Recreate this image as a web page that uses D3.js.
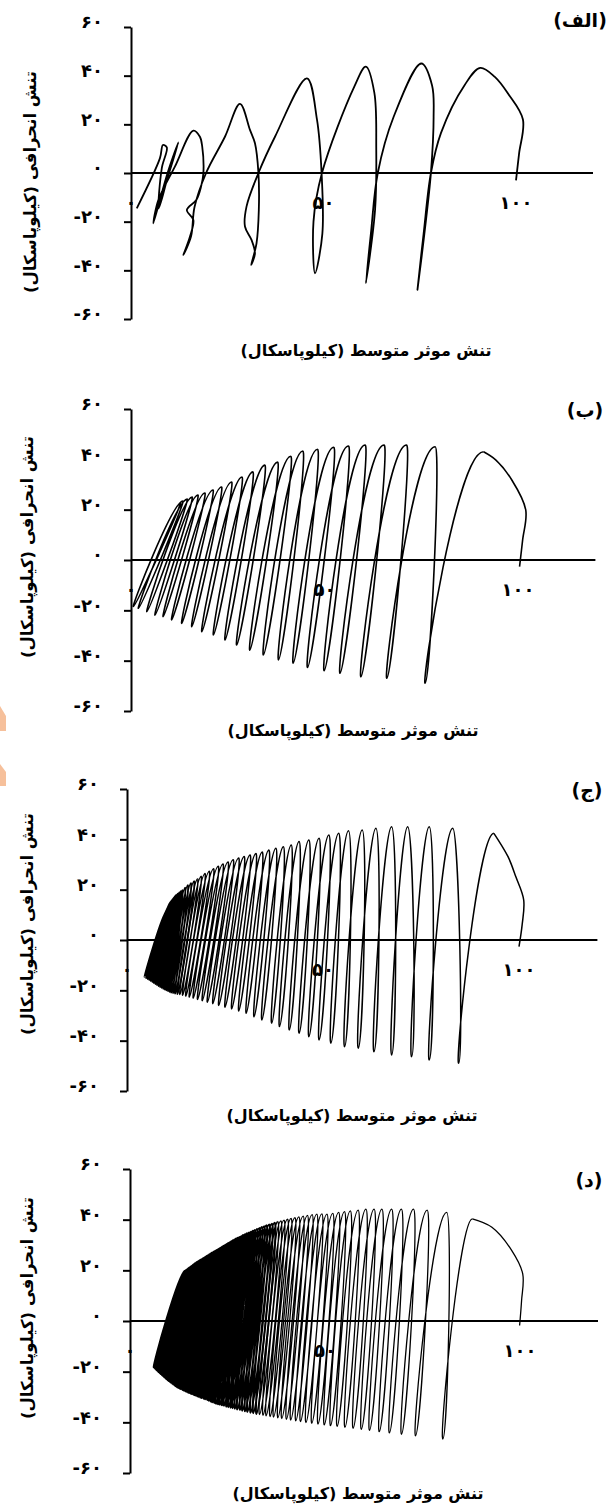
<!DOCTYPE html>
<html>
<head>
<meta charset="utf-8">
<script src="https://cdn.jsdelivr.net/npm/d3@7"></script>
<style>
  body { margin: 0; background: #fff; }
  text { font-family: "DejaVu Sans", sans-serif; font-weight: bold; fill: #000; }
</style>
</head>
<body>
<svg id="chart"></svg>
<script>
// ---- tick values and labels (shared by all four panels)
const yTicks = [60, 40, 20, 0, -20, -40, -60];
const yTickLabels = ["۶۰", "۴۰", "۲۰", "۰", "-۲۰", "-۴۰", "-۶۰"];
const xTicks = [0, 50, 100];
const xTickLabels = ["۰", "۵۰", "۱۰۰"];
const xTitle = "تنش موثر متوسط (کیلوپاسکال)";
const yTitle = "تنش انحرافی (کیلوپاسکال)";
const panelLabels = ["(الف)", "(ب)", "(ج)", "(د)"];

// ---- panel (a): full stress path, point by point
const aP = [100, 100.8, 101.8, 98, 94.5, 90.7, 86.6, 80.5, 77.9, 76, 74.4,
  76.2, 77.9, 78.6, 78.2, 75.4, 68.2, 64.1, 62.3, 61,
  63.4, 63.7, 63.2, 61, 58, 49.6, 47.4, 47.8,
  49.7, 49.5, 48.3, 45.7, 37.4, 33.1, 30, 29.6, 31.3, 32.2, 31.2,
  32.6, 33.2, 33.1, 32.2, 30.9, 28.3, 24.4, 19.5, 16.5, 15.6, 13.6,
  15.3, 16.2, 14.5, 17, 18.2, 18.8, 18.5, 17.9, 16.2, 11.4, 7.1, 5.8,
  9.5, 12.3, 9.5, 7.2, 8, 9.3, 8.3, 7.5, 1.5];
const aQ = [-3, 8, 22, 32.5, 39.5, 43.2, 36, 16.4, 0, -25, -48,
  -25, 0, 23, 36, 45, 23, 0, -25, -45.3,
  -15, 10, 33, 43.7, 35.5, 0, -20, -41.2,
  -25, 0, 22, 38.9, 14.9, 0, -13.8, -22, -27.5, -33, -37.8,
  -28.9, -15.2, 0, 12.2, 17.7, 28.4, 14.9, 0, -14, -26, -33.7,
  -26.2, -19.3, -15.2, -11, -5.6, 0, 10.8, 14.9, 17.4, 2.6, -11.1, -20.7,
  0, 12.6, -2, -14.5, 2, 10.5, 11.5, 6, -14.5];

// ---- panel (b)
const bLeadP = [100.4, 101.2, 102, 98.4, 94.3];
const bLeadQ = [-2.6, 8, 19.9, 31.8, 39.7];
const bPeakP = [91.1, 78.6, 71.2, 65.4, 60.5, 56.2, 52.4, 48.2, 44.4, 41.3, 37.9, 34.6,
  31.5, 28.7, 26.0, 23.4, 21.2, 19.1, 17.3, 15.8, 14.5, 13.4, 12.7];
const bPeakQ = [43.0, 45.0, 45.7, 45.7, 45.7, 45.3, 44.8, 44.0, 43.3, 41.2, 38.9, 37.7,
  35.0, 33.0, 31.0, 29.0, 27.8, 26.6, 25.8, 25.0, 24.2, 23.4, 22.6];
const bTroughP = [76.0, 66.1, 59.4, 54.0, 49.9, 45.6, 41.9, 38.1, 34.2, 30.7, 27.3, 24.3,
  21.3, 18.3, 15.7, 13.1, 10.5, 8.3, 6.2, 4.1, 1.9, 0.6];
const bTroughQ = [-49.0, -47.0, -46.4, -45.0, -44.0, -42.7, -41.0, -39.7, -37.7, -35.8, -33.8, -31.8,
  -29.8, -28.5, -26.5, -25.2, -23.8, -22.5, -21.9, -20.5, -19.2, -18.5];

// ---- panel (c)
const cLeadP = [100, 100.8, 101.2, 99.2, 97.2];
const cLeadQ = [-2.6, 6, 15.9, 25.1, 33.1];
const cPeakP = [93.6, 83.1, 77.1, 71.6, 67.5, 63.5, 60.0, 56.5, 54.0, 51.5, 49.0, 46.4, 43.9, 41.9, 39.9,
  38.0, 36.2, 34.5, 32.9, 31.4, 29.9, 28.5, 27.1, 25.8, 24.5, 23.3, 22.1, 21.0, 19.9, 18.9,
  18.0, 17.1, 16.3, 15.5, 14.8, 14.1, 13.7, 13.3, 12.9, 12.5, 12.2, 11.9, 11.6, 11.3, 11.0,
  10.8, 10.6, 10.4, 10.2, 10.0, 9.8];
const cPeakQ = [42.4, 44.4, 45.0, 45.0, 45.0, 44.4, 43.7, 43.4, 42.4, 41.7, 40.4, 39.7, 39.1, 37.7, 37.1,
  36.5, 35.8, 35.0, 34.4, 33.8, 33.2, 32.6, 31.9, 31.0, 30.2, 29.3, 28.3, 27.3, 26.4, 25.3,
  24.3, 23.4, 22.6, 21.8, 20.8, 19.8, 19.4, 18.9, 18.4, 17.9, 17.4, 16.8, 16.2, 15.6, 15.0,
  14.4, 13.7, 13.0, 12.3, 11.6, 10.8];
const cTroughP = [84.6, 77.1, 72.6, 67.5, 63.0, 59.0, 55.5, 52.0, 49.0, 46.4, 43.9, 41.4, 38.9, 36.9, 34.4,
  32.4, 30.4, 28.5, 26.7, 25.0, 23.4, 21.9, 20.5, 19.2, 18.0, 16.9, 15.9, 15.0, 14.2, 13.5,
  12.9, 12.3, 11.8, 11.3, 10.9, 10.5, 10.1, 9.7, 9.3, 8.9, 8.5, 8.1, 7.7, 7.3, 6.9,
  6.5, 6.1, 5.7, 5.3, 4.9, 4.5];
const cTroughQ = [-49.0, -47.7, -46.4, -45.7, -44.4, -43.0, -42.4, -41.0, -39.7, -38.4, -37.1, -35.8, -34.4, -33.1, -31.8,
  -30.5, -29.1, -28.2, -27.4, -26.7, -26.0, -25.3, -24.7, -24.1, -23.6, -23.1, -22.7, -22.3, -22.0, -21.7,
  -21.5, -21.3, -21.1, -20.9, -20.6, -20.3, -20.0, -19.7, -19.4, -19.0, -18.7, -18.3, -17.9, -17.5, -17.1,
  -16.7, -16.3, -15.9, -15.5, -15.1, -14.7];

// ---- panel (d)
const dLeadP = [99.9, 100.4, 100.7, 97.9, 92.8];
const dLeadQ = [-1.8, 8, 18.6, 27.8, 37];
const dPeakP = [87.8, 81.2, 76.2, 72.7, 69.6, 67.1, 64.6, 62.6, 60.5, 58.5, 56.5, 55.0, 53.5, 52.0, 50.5,
  49.2, 47.9, 46.7, 45.5, 44.4, 43.3, 42.3, 41.3, 40.4, 39.5,
  38.7, 37.9, 37.1, 36.4, 35.7, 35.0, 34.4, 33.8, 33.2, 32.6,
  32.0, 31.5, 31.0, 30.5, 30.0, 29.5, 29.0, 28.55, 28.1, 27.65,
  27.2, 26.8, 26.4, 26.0, 25.6, 25.2, 24.8, 24.4, 24.05, 23.7,
  23.35, 23.0, 22.65, 22.3, 21.95, 21.6, 21.3, 21.0, 20.7, 20.4,
  20.1, 19.8, 19.5, 19.2, 18.9, 18.65, 18.4, 18.15, 17.9, 17.65,
  17.4, 17.15, 16.9, 16.7, 16.5, 16.3, 16.1, 15.9, 15.7, 15.5,
  15.3, 15.1, 14.9, 14.7, 14.5, 14.3, 14.1];
const dPeakQ = [40.3, 42.9, 43.8, 44.2, 44.2, 44.2, 44.2, 44.2, 44.2, 43.8, 43.5, 43.2, 42.9, 42.5, 42.2,
  42.3, 42.2, 42.0, 41.7, 41.4, 41.1, 40.8, 40.5, 40.2, 39.8,
  39.5, 39.2, 38.8, 38.4, 38.1, 37.8, 37.4, 37.1, 36.7, 36.3,
  35.9, 35.6, 35.2, 34.9, 34.6, 34.2, 33.9, 33.5, 33.2, 32.9,
  32.6, 32.2, 31.9, 31.5, 31.1, 30.8, 30.4, 30.0, 29.7, 29.4,
  29.0, 28.7, 28.3, 28.0, 27.7, 27.4, 27.1, 26.9, 26.6, 26.3,
  26.0, 25.8, 25.5, 25.2, 24.9, 24.7, 24.4, 24.2, 24.0, 23.7,
  23.5, 23.3, 23.0, 22.8, 22.5, 22.3, 22.0, 21.8, 21.6, 21.3,
  21.1, 20.9, 20.6, 20.4, 20.2, 20.0, 19.8];
const dTroughP = [80.2, 73.2, 69.6, 66.5, 63.9, 61.4, 59.3, 57.2, 55.1, 53.1, 51.4, 49.8, 48.2, 46.6, 45.1,
  43.7, 42.5, 41.2, 40.1, 38.9, 37.9, 36.8, 35.9, 34.9, 34.1,
  33.2, 32.4, 31.6, 30.9, 30.1, 29.5, 28.8, 28.2, 27.5, 26.9,
  26.3, 25.8, 25.2, 24.7, 24.1, 23.6, 23.05, 22.6, 22.05, 21.6,
  21.1, 20.7, 20.2, 19.8, 19.3, 18.9, 18.4, 18.05, 17.6, 17.25,
  16.8, 16.45, 16.0, 15.65, 15.2, 14.9, 14.5, 14.2, 13.8, 13.5,
  13.1, 12.8, 12.4, 12.1, 11.75, 11.5, 11.15, 10.9, 10.55, 10.3,
  9.95, 9.7, 9.4, 9.2, 8.9, 8.7, 8.4, 8.2, 7.9, 7.7,
  7.4, 7.2, 6.9, 6.7, 6.5, 6.3, 6.1];
const dTroughQ = [-46.6, -45.3, -44.7, -44.2, -43.7, -43.2, -42.8, -42.4, -42.0, -41.6, -41.3, -41.0, -40.7, -40.4, -40.1,
  -39.7, -39.4, -39.1, -38.8, -38.5, -38.2, -37.9, -37.7, -37.4, -37.2,
  -36.9, -36.7, -36.4, -36.2, -35.9, -35.6, -35.4, -35.1, -34.9, -34.6,
  -34.4, -34.2, -34.0, -33.8, -33.5, -33.3, -33.1, -32.9, -32.7, -32.4,
  -32.1, -31.8, -31.5, -31.2, -30.9, -30.7, -30.4, -30.2, -29.9, -29.7,
  -29.4, -29.2, -28.9, -28.7, -28.4, -28.2, -27.9, -27.7, -27.4, -27.2,
  -26.9, -26.7, -26.4, -26.2, -25.8, -25.5, -25.1, -24.8, -24.4, -24.1,
  -23.7, -23.4, -23.0, -22.7, -22.3, -22.0, -21.6, -21.3, -20.9, -20.6,
  -20.2, -19.9, -19.5, -19.2, -18.9, -18.6, -18.3];

// alternate peak / trough of every cycle
function cyclePoints(peakP, peakQ, troughP, troughQ) {
  const pts = [];
  peakP.forEach((p, i) => {
    pts.push([p, peakQ[i]]);
    if (i < troughP.length) pts.push([troughP[i], troughQ[i]]);
  });
  return pts;
}
function leadPoints(leadP, leadQ, peakP, peakQ) {
  return leadP.map((p, i) => [p, leadQ[i]]).concat([[peakP[0], peakQ[0]]]);
}

// coil curve: the path keeps turning one way, so it leaves every peak
// heading left and every trough heading right (horizontal tangents).
// Handles shrink with the height of the swing, so short loops stay thin.
function CoilCurve(context) { this._context = context; }
CoilCurve.prototype = {
  areaStart() {}, areaEnd() {},
  lineStart() { this._n = 0; },
  lineEnd() {},
  point(x, y) {
    x = +x; y = +y;
    if (this._n === 0) {
      this._context.moveTo(x, y);
    } else {
      const x0 = this._x0, y0 = this._y0;
      const s = Math.min(1, Math.abs(y - y0) / 230);
      if (y > y0) {
        // peak -> trough: swings left first, lands coming from the left
        const a = 0.45 * Math.abs(x - x0) * s;
        this._context.bezierCurveTo(x0 - a, y0, x - 4 * s, y, x, y);
      } else {
        // trough -> peak: leaves to the right, arrives from the right
        this._context.bezierCurveTo(x0 + 5 * s, y0, x + 6 * s, y, x, y);
      }
    }
    this._x0 = x; this._y0 = y; this._n++;
  }
};
const curveCoil = context => new CoilCurve(context);

const paths = [
  {plain: aP.map((p, i) => [p, aQ[i]])},
  {lead: leadPoints(bLeadP, bLeadQ, bPeakP, bPeakQ), coil: cyclePoints(bPeakP, bPeakQ, bTroughP, bTroughQ)},
  {lead: leadPoints(cLeadP, cLeadQ, cPeakP, cPeakQ), coil: cyclePoints(cPeakP, cPeakQ, cTroughP, cTroughQ)},
  {lead: leadPoints(dLeadP, dLeadQ, dPeakP, dPeakQ), coil: cyclePoints(dPeakP, dPeakQ, dTroughP, dTroughQ)}
];

// layout of each panel on the page; the tightly packed late cycles
// (from cycle "dense" on) get a heavier pen so they read as one dark mass
const panels = [
  {x0: 131, x100: 516, yTop: 27, yBot: 319, titleX: 366, titleY: 356, yTitleX: 30, yTitleY: 182, labelX: 580, labelY: 27, sw: 1.8},
  {x0: 131, x100: 518, yTop: 409, yBot: 711, titleX: 353, titleY: 736, yTitleX: 27, yTitleY: 547, labelX: 585, labelY: 417, sw: 1.6},
  {x0: 127, x100: 519, yTop: 789, yBot: 1091, titleX: 352, titleY: 1121, yTitleX: 27, yTitleY: 924, labelX: 587, labelY: 797, sw: 1.5, dense: 30, sw2: 1.8},
  {x0: 130, x100: 520, yTop: 1169, yBot: 1473, titleX: 358, titleY: 1499, yTitleX: 27, yTitleY: 1308, labelX: 589, labelY: 1187, sw: 1.3, dense: 26, sw2: 2.0}
];

const svg = d3.select("#chart").attr("width", 612).attr("height", 1505);
svg.append("rect").attr("width", 612).attr("height", 1505).attr("fill", "#fff");

// bits of an orange watermark cut by the left edge
svg.append("polygon").attr("points", "0,706 6,716 6,731 0,731").attr("fill", "#f6c09b");
svg.append("polygon").attr("points", "0,764 6,772 6,786 0,786").attr("fill", "#f6c09b");

panels.forEach((cfg, k) => {
  const x = d3.scaleLinear().domain([0, 100]).range([cfg.x0, cfg.x100]);
  const y = d3.scaleLinear().domain([60, -60]).range([cfg.yTop, cfg.yBot]);
  const g = svg.append("g");

  // x tick labels sit under the zero line, behind the curves
  g.selectAll(".xl").data(xTicks).enter().append("text")
    .attr("x", d => x(d))
    .attr("y", y(0) + 36)
    .attr("text-anchor", "middle")
    .style("font-size", "18px")
    .text((d, i) => xTickLabels[i]);

  const axis = g.append("g")
    .attr("transform", `translate(${cfg.x0},0)`)
    .call(d3.axisLeft(y).tickValues(yTicks).tickSize(7).tickSizeOuter(0).tickPadding(21)
      .tickFormat((d, i) => yTickLabels[i]));
  axis.select(".domain").attr("stroke", "#000").attr("stroke-width", 2);
  axis.selectAll(".tick line").attr("stroke", "#000").attr("stroke-width", 2);
  axis.selectAll(".tick text")
    .attr("dy", "0.05em")
    .style("font-family", "DejaVu Sans")
    .style("font-weight", "bold")
    .style("font-size", "18px");

  // zero line
  g.append("line")
    .attr("x1", cfg.x0).attr("x2", x(120))
    .attr("y1", y(0)).attr("y2", y(0))
    .attr("stroke", "#000").attr("stroke-width", 2);

  const smooth = d3.line()
    .x(d => x(d[0]))
    .y(d => y(d[1]))
    .curve(d3.curveCatmullRom.alpha(0.5));
  const coil = d3.line()
    .x(d => x(d[0]))
    .y(d => y(d[1]))
    .curve(curveCoil);

  const pathData = paths[k];
  let parts;
  if (pathData.plain) {
    parts = [[smooth(pathData.plain), cfg.sw]];
  } else if (cfg.dense) {
    const cut = 2 * cfg.dense;
    parts = [[smooth(pathData.lead), cfg.sw],
             [coil(pathData.coil.slice(0, cut + 1)), cfg.sw],
             [coil(pathData.coil.slice(cut)), cfg.sw2]];
  } else {
    parts = [[smooth(pathData.lead), cfg.sw], [coil(pathData.coil), cfg.sw]];
  }
  parts.forEach(([d, w]) => {
    g.append("path")
      .attr("d", d)
      .attr("fill", "none")
      .attr("stroke", "#000")
      .attr("stroke-width", w)
      .attr("stroke-linejoin", "round");
  });

  g.append("text")
    .attr("x", cfg.titleX).attr("y", cfg.titleY)
    .attr("direction", "rtl")
    .attr("text-anchor", "middle")
    .style("font-size", "16px")
    .text(xTitle);

  g.append("text")
    .attr("transform", `translate(${cfg.yTitleX},${cfg.yTitleY}) rotate(-90)`)
    .attr("direction", "rtl")
    .attr("text-anchor", "middle")
    .attr("dy", "0.35em")
    .style("font-size", "16.5px")
    .text(yTitle);

  g.append("text")
    .attr("x", cfg.labelX).attr("y", cfg.labelY)
    .attr("direction", "rtl")
    .attr("text-anchor", "middle")
    .style("font-size", "19px")
    .text(panelLabels[k]);
});
</script>
</body>
</html>
